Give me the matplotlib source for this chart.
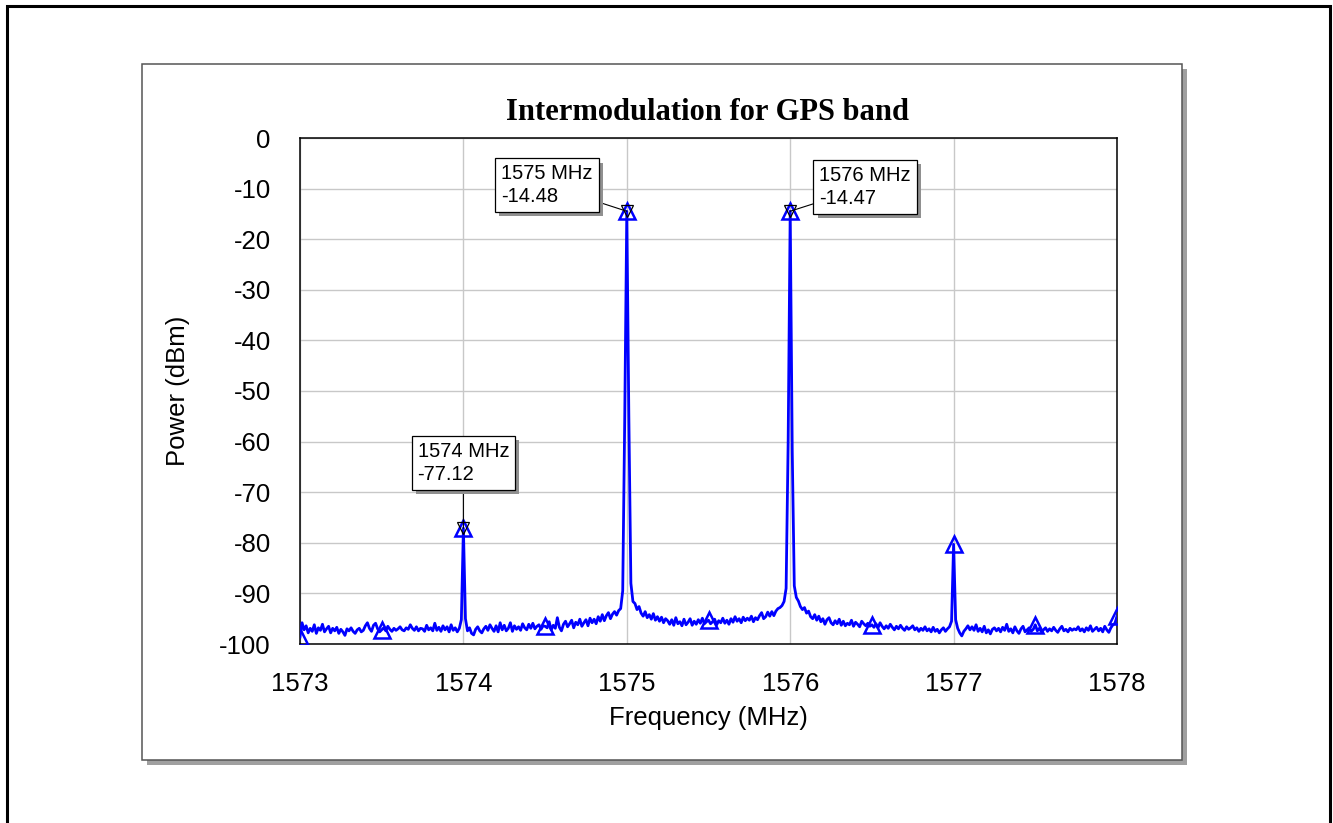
import matplotlib
matplotlib.use('Agg')
import numpy as np
import matplotlib.pyplot as plt
import matplotlib.patheffects as pe
from matplotlib.patches import Rectangle

plt.rcParams['font.family'] = ['Liberation Sans', 'DejaVu Sans']
plt.rcParams['axes.unicode_minus'] = False

# frequency grid: 1573 .. 1578 MHz, 0.0125 MHz step
freq_start = 1573.0
freq_step = 0.0125

# measured power (dBm), one list per MHz
power_1573 = [-98.6, -95.8, -97.2, -96.4, -97.8, -96.9, -97.5, -96.2, -97.9, -96.8,
              -97.3, -96.1, -97.6, -97.0, -96.5, -97.8, -96.9, -97.4, -96.7, -97.9,
              -97.1, -97.6, -98.3, -97.0, -97.4, -96.8, -97.5, -97.9, -97.2, -96.9,
              -97.6, -97.3, -96.4, -95.8, -96.9, -97.5, -96.3, -95.9, -97.0, -97.6,
              -97.2, -96.8, -97.4, -96.5, -97.1, -97.5, -96.9, -97.3, -97.0, -96.6,
              -97.2, -97.4, -96.8, -97.1, -96.2, -96.9, -97.3, -96.6, -97.4, -96.9,
              -97.0, -97.5, -96.3, -97.2, -96.8, -97.4, -95.9, -97.3, -96.7, -97.5,
              -96.4, -97.2, -96.6, -97.6, -96.2, -97.3, -96.8, -97.6, -96.9, -95.2]
power_1574 = [-77.12, -95.0, -97.4, -96.8, -97.9, -98.2, -97.1, -96.6, -97.4, -97.8,
              -97.0, -96.5, -97.3, -96.2, -96.9, -97.5, -96.4, -97.6, -95.8, -97.2,
              -96.3, -97.4, -96.9, -95.8, -97.5, -96.4, -97.1, -96.6, -97.3, -96.0,
              -96.8, -97.2, -96.1, -96.9, -95.9, -97.0, -96.5, -96.2, -97.1, -96.4,
              -96.5, -96.8, -95.6, -97.2, -96.3, -96.9, -94.8, -96.7, -97.4, -96.1,
              -95.5, -96.6, -96.0, -95.3, -96.8, -95.7, -96.2, -95.1, -96.5, -95.8,
              -95.2, -96.4, -94.9, -95.8, -95.1, -96.0, -94.6, -95.5, -94.2, -95.4,
              -94.4, -93.8, -95.0, -94.1, -93.6, -94.3, -93.4, -93.0, -89.5, -55.0]
power_1575 = [-14.48, -55.0, -88.0, -91.6, -92.0, -93.2, -92.6, -93.9, -94.5, -93.6,
              -94.8, -94.2, -95.1, -94.0, -95.3, -94.6, -95.5, -94.7, -95.8, -95.0,
              -95.4, -96.1, -95.2, -96.3, -94.8, -96.0, -95.6, -96.4, -95.1, -96.2,
              -95.7, -95.0, -96.3, -95.5, -96.1, -95.2, -95.9, -94.9, -96.0, -95.6,
              -95.3, -96.0, -95.6, -95.1, -96.2, -95.4, -95.8, -94.9, -95.9, -95.3,
              -96.1, -95.0, -95.7, -94.6, -95.5, -95.0, -95.8, -94.7, -95.4, -94.9,
              -95.3, -94.5, -95.6, -94.8, -95.2, -94.4, -93.8, -95.0, -94.6, -93.7,
              -94.5, -93.6, -94.4, -93.5, -93.0, -92.8, -92.4, -91.6, -89.0, -60.0]
power_1576 = [-14.47, -62.0, -88.5, -90.8, -91.5, -92.6, -93.2, -92.8, -93.9, -93.5,
              -94.6, -95.0, -94.2, -95.3, -94.5, -95.6, -95.0, -96.1, -95.2, -94.8,
              -95.8, -96.2, -95.4, -96.0, -95.1, -96.3, -95.5, -96.4, -95.9, -96.2,
              -95.3, -96.5, -95.7, -96.1, -96.6, -95.5, -96.0, -96.4, -95.9, -96.5,
              -96.2, -96.7, -96.0, -96.8, -95.8, -96.5, -97.0, -96.4, -96.9, -96.1,
              -96.7, -97.2, -96.5, -97.0, -96.3, -96.9, -97.3, -96.6, -97.1, -96.8,
              -96.4, -97.2, -96.8, -97.5, -96.9, -97.3, -96.6, -97.4, -97.0, -97.6,
              -96.7, -97.5, -97.1, -97.8, -97.2, -96.8, -97.5, -97.0, -96.6, -95.5]
power_1577 = [-80.3, -95.2, -96.9, -97.8, -98.4, -97.5, -97.0, -96.4, -97.2, -96.6,
              -97.3, -96.2, -97.5, -96.9, -97.6, -96.5, -97.8, -97.2, -98.0, -97.1,
              -96.8, -97.4, -96.9, -97.6, -96.7, -97.3, -96.1, -97.5, -97.0, -97.8,
              -96.6, -97.4, -97.9, -97.0, -96.5, -97.6, -97.2, -96.8, -97.5, -97.1,
              -96.2, -97.4, -96.9, -97.6, -97.2, -96.8, -97.5, -97.0, -97.4, -96.7,
              -97.3, -97.7, -97.0, -96.5, -97.4, -97.1, -97.6, -96.9, -97.3, -97.0,
              -97.2, -96.6, -97.4, -97.0, -97.6, -96.8, -97.3, -96.4, -97.5, -97.1,
              -96.7, -97.4, -96.9, -97.6, -96.5, -97.2, -97.7, -96.8, -96.2, -95.9]
power_1578 = [-94.5]

# marker readouts
mark_freqs = [1574, 1575, 1576]
mark_values = [-77.12, -14.48, -14.47]
mark_texts = ['1574 MHz\n-77.12', '1575 MHz\n-14.48', '1576 MHz\n-14.47']

power = np.array(power_1573 + power_1574 + power_1575 + power_1576 + power_1577 + power_1578)
freq = freq_start + freq_step * np.arange(len(power))

W, H = 1333, 823
fig = plt.figure(figsize=(W / 100, H / 100), dpi=100)


def px_rect(x0, y0, x1, y1, **kw):
    # rectangle given in image pixels (origin top-left)
    r = Rectangle((x0 / W, 1 - y1 / H), (x1 - x0) / W, (y1 - y0) / H,
                  transform=fig.transFigure, **kw)
    fig.patches.append(r)
    return r


# outer frame, panel shadow and panel
px_rect(6.5, 6.5, 1330, 840, fill=False, ec='black', lw=2.2, zorder=-3)
px_rect(147, 69, 1187, 765, fc='#a0a0a0', ec='none', zorder=-2)
px_rect(142, 64, 1182, 760, fc='white', ec='#555555', lw=1.1, zorder=-1)

ax = fig.add_axes([300 / W, 1 - 644 / H, 817 / W, 506 / H])
ax.set_facecolor('white')

ax.plot(freq, power, color='#0000ff', lw=2.0, marker='^', markevery=40,
        markersize=11.5, markerfacecolor='none', markeredgecolor='#0000ff',
        markeredgewidth=1.8, zorder=3)
ax.plot(mark_freqs, mark_values, ls='none', marker='v', markersize=9,
        markerfacecolor='none', markeredgecolor='black', markeredgewidth=0.9, zorder=4)

ax.set_xlim(1573, 1578)
ax.set_ylim(-100, 0)
ax.set_xticks(np.arange(1573, 1579, 1))
ax.set_yticks(np.arange(-100, 1, 10))
ax.grid(True, color='#c8c8c8', lw=1.0)
ax.set_axisbelow(True)
ax.tick_params(length=0, labelsize=18.5)
ax.tick_params(axis='y', pad=21)
ax.tick_params(axis='x', pad=20)
for s in ax.spines.values():
    s.set_linewidth(1.1)
    s.set_color('black')

ax.set_xlabel('Frequency (MHz)', fontsize=18.5, va='center')
ax.xaxis.set_label_coords(0.5, (644 - 718) / 506)
ax.set_ylabel('Power (dBm)', fontsize=18.5, va='center')
ax.yaxis.set_label_coords((178 - 300) / 817, 0.5)

fig.text(708 / W, 1 - 112 / H, 'Intermodulation for GPS band', ha='center', va='center',
         fontsize=22, fontweight='bold', family=['Liberation Serif', 'DejaVu Serif'])

# marker boxes
box_offsets = [(0, 65), (-80, 26), (75, 24)]
for fx, fy, txt, off in zip(mark_freqs, mark_values, mark_texts, box_offsets):
    a = ax.annotate(txt, xy=(fx, fy), xytext=off, textcoords='offset pixels',
                    ha='center', va='center', multialignment='left', fontsize=14.5,
                    linespacing=1.25,
                    bbox=dict(boxstyle='square,pad=0.3', fc='white', ec='black', lw=0.9),
                    arrowprops=dict(arrowstyle='-', color='black', lw=0.8,
                                    shrinkA=0, shrinkB=0),
                    zorder=5)
    a.get_bbox_patch().set_path_effects([
        pe.SimplePatchShadow(offset=(3, -3), shadow_rgbFace='#909090', alpha=1.0),
        pe.Normal()])

fig.savefig('out.png', dpi=100)
